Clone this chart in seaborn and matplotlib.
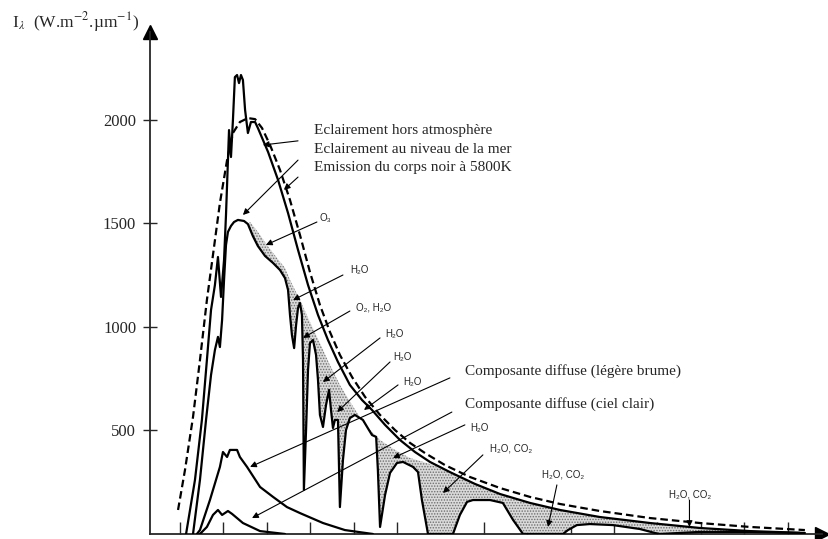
import matplotlib
matplotlib.use('Agg')
import matplotlib.pyplot as plt
import seaborn as sns
import numpy as np

# wavelength (um) / spectral irradiance (W.m-2.um-1)

# Eclairement hors atmosphere
et_lam = [0.228, 0.269, 0.301, 0.324, 0.343, 0.361, 0.375, 0.389, 0.403, 0.412,
          0.421, 0.426, 0.435, 0.444, 0.453, 0.463, 0.472, 0.481, 0.490, 0.500,
          0.513, 0.527, 0.546, 0.559, 0.606, 0.652, 0.698, 0.744, 0.790, 0.836,
          0.882, 0.928, 0.983, 1.039, 1.085, 1.145, 1.214, 1.283, 1.352, 1.444,
          1.559, 1.675, 1.813, 1.951, 2.135, 2.366, 2.596, 2.827, 3.080]
et_val = [0, 261, 551, 840, 1082, 1203, 1338, 1145, 1323, 1541,
          1806, 1951, 1821, 2000, 2207, 2217, 2178, 2217, 2193, 2048,
          1937, 1990, 1990, 1961, 1845, 1710, 1550, 1372, 1203, 1058,
          937, 831, 720, 647, 599, 527, 454, 396, 348, 299,
          242, 193, 150, 116, 82, 53, 29, 14, 5]

# Emission du corps noir a 5800K
bb_lam = [0.191, 0.223, 0.260, 0.292, 0.324, 0.352, 0.384, 0.417, 0.444, 0.476,
          0.513, 0.546, 0.578, 0.615, 0.661, 0.707, 0.753, 0.799, 0.845, 0.891,
          0.937, 0.993, 1.053, 1.122, 1.191, 1.260, 1.329, 1.421, 1.537, 1.675,
          1.813, 1.951, 2.135, 2.366, 2.596, 2.827, 3.080]
bb_val = [116, 309, 565, 840, 1130, 1348, 1599, 1806, 1937, 1990,
          2009, 2004, 1961, 1879, 1758, 1613, 1444, 1265, 1106, 976,
          865, 758, 662, 575, 502, 440, 391, 333, 275, 222,
          179, 145, 111, 77, 53, 34, 19]

# Eclairement au niveau de la mer
sl_lam = [0.260, 0.292, 0.320, 0.343, 0.361, 0.375, 0.384, 0.394, 0.403, 0.412,
          0.421, 0.435, 0.449, 0.467, 0.495, 0.513, 0.536, 0.559, 0.592, 0.629,
          0.661, 0.684, 0.698, 0.707, 0.716, 0.726, 0.735, 0.744, 0.753, 0.762,
          0.767, 0.771, 0.781, 0.790, 0.799, 0.813, 0.827, 0.836, 0.845, 0.859,
          0.873, 0.887, 0.896, 0.905, 0.914, 0.928, 0.937, 0.951, 0.965, 0.983,
          1.006, 1.043, 1.071, 1.085, 1.104, 1.112, 1.122, 1.145, 1.168, 1.200,
          1.228, 1.274, 1.297, 1.315, 1.343, 1.458, 1.490, 1.523, 1.550, 1.629,
          1.688, 1.735, 1.781, 1.965, 1.988, 2.029, 2.089, 2.195, 2.320, 2.388,
          2.412, 2.596, 2.827, 3.057]
sl_val = [0, 261, 551, 768, 889, 952, 903, 1034, 1227, 1396,
          1459, 1488, 1507, 1517, 1512, 1497, 1439, 1391, 1343, 1309,
          1275, 1236, 1179, 1058, 961, 898, 1009, 1092, 1116, 1058,
          840, 213, 502, 792, 922, 937, 865, 744, 575, 517,
          623, 696, 599, 512, 551, 551, 130, 357, 502, 560,
          575, 551, 502, 478, 469, 309, 34, 188, 295, 343,
          348, 324, 299, 164, 0, 0, 92, 155, 164, 164,
          150, 68, 0, 0, 19, 43, 48, 43, 24, 5,
          0, 10, 10, 5]

# upper edge of the stippled (absorbed) area
abs_lam = [0.523, 0.559, 0.601, 0.647, 0.684, 0.707, 0.753, 0.799, 0.845, 0.891,
           0.937, 0.993, 1.053, 1.122, 1.191, 1.260, 1.352, 1.444, 1.559, 1.675,
           1.813, 1.951, 2.135, 2.366, 2.596, 2.827, 3.080]
abs_val = [1507, 1459, 1396, 1333, 1285, 1227, 1130, 1024, 922, 816,
           720, 623, 527, 454, 406, 367, 338, 299, 242, 193,
           150, 116, 82, 53, 29, 14, 5]

# Composante diffuse (legere brume)
haze_lam = [0.278, 0.292, 0.338, 0.384, 0.398, 0.417, 0.430, 0.463, 0.476, 0.509,
            0.569, 0.629, 0.693, 0.753, 0.859, 0.960, 1.089]
haze_val = [0, 19, 164, 324, 396, 372, 406, 406, 372, 324,
            227, 179, 130, 101, 53, 19, 0]

# Composante diffuse (ciel clair)
clear_lam = [0.292, 0.324, 0.352, 0.375, 0.394, 0.421, 0.440, 0.490, 0.569, 0.684]
clear_val = [0, 34, 92, 116, 92, 111, 97, 53, 14, 0]

x_ticks = [0.2, 0.4, 0.6, 0.8, 1.0, 1.2, 1.4, 1.6, 1.8, 2.0, 2.2, 2.4, 2.6, 2.8, 3.0]
y_ticks = [500, 1000, 1500, 2000]

sns.set_style('ticks')
plt.rcParams['font.family'] = ['Liberation Serif', 'DejaVu Serif']
plt.rcParams['mathtext.fontset'] = 'stix'
plt.rcParams['hatch.linewidth'] = 0.7

fig = plt.figure(figsize=(8.29, 5.39), dpi=100)
ax = fig.add_axes([0.181, 0.0093, 0.8106, 0.9314])

# stippled absorption bands
sl_lam_a = np.array(sl_lam)
sl_val_a = np.array(sl_val)
keep = sl_lam_a >= 0.513
poly_x = np.concatenate([abs_lam, sl_lam_a[keep][::-1]])
poly_y = np.concatenate([abs_val, sl_val_a[keep][::-1]])
ax.fill(poly_x, poly_y, facecolor='#dadada', edgecolor='#6e6e6e',
        hatch='......', linewidth=0, zorder=1)

lw = 1.6
sns.lineplot(x=bb_lam, y=bb_val, ax=ax, color='black', lw=lw, sort=False,
             estimator=None, linestyle=(0, (3.4, 1.8)), zorder=3)
for xs, ys in [(et_lam, et_val), (sl_lam, sl_val), (haze_lam, haze_val), (clear_lam, clear_val)]:
    sns.lineplot(x=xs, y=ys, ax=ax, color='black', lw=lw, sort=False,
                 estimator=None, zorder=3)

ax.set_xlim(0.062, 3.159)
ax.set_ylim(0, 2425)
sns.despine(ax=ax)
for s in ['left', 'bottom']:
    ax.spines[s].set_linewidth(1.3)
ax.set_xticks(x_ticks)
ax.set_xticklabels([])
ax.tick_params(axis='x', direction='in', length=9, width=1.0)
ax.set_yticks(y_ticks)
ax.tick_params(axis='y', direction='inout', length=10, width=1.0, pad=5, labelsize=12)
ax.set_xlabel('')
ax.set_ylabel('')

# axis arrows
ax.plot([0], [1], marker='^', ms=10, color='black', transform=ax.transAxes, clip_on=False)
ax.plot([1], [0], marker='>', ms=10, color='black', transform=ax.transAxes, clip_on=False)

fig.text(12 / 829, 1 - 22 / 539, r'I$_{\lambda}$  (W.m$^{-2}$.µm$^{-1}$)',
         fontsize=12.5, ha='left', va='center')

arrow = dict(arrowstyle='-|>', lw=0.8, color='black', mutation_scale=9,
             shrinkA=0, shrinkB=0)

# big captions
big = [('Eclairement hors atmosphère', 0.816, 1947, (0.744, 1899), (0.582, 1879)),
       ('Eclairement au niveau de la mer', 0.816, 1855, (0.744, 1806), (0.490, 1541)),
       ('Emission du corps noir à 5800K', 0.816, 1768, (0.744, 1724), (0.679, 1662)),
       ('Composante diffuse (légère brume)', 1.513, 787, (1.444, 754), (0.523, 324)),
       ('Composante diffuse (ciel clair)', 1.513, 628, (1.453, 589), (0.532, 77))]
for txt, tx, ty, start, tip in big:
    ax.text(tx, ty, txt, fontsize=11, ha='left', va='center')
    ax.annotate('', xy=tip, xytext=start, arrowprops=arrow)

# small absorber labels
small = [('O₃', 0.845, 1526, (0.831, 1507), (0.596, 1396)),
         ('H₂O', 0.983, 1275, (0.951, 1251), (0.721, 1130)),
         ('O₂, H₂O', 1.011, 1092, (0.983, 1077), (0.767, 947)),
         ('H₂O', 1.145, 966, (1.122, 947), (0.859, 734)),
         ('H₂O', 1.182, 855, (1.168, 831), (0.924, 589)),
         ('H₂O', 1.228, 734, (1.205, 720), (1.048, 599)),
         ('H₂O', 1.537, 512, (1.513, 527), (1.182, 367)),
         ('H₂O, CO₂', 1.629, 415, (1.596, 382), (1.412, 198)),
         ('H₂O, CO₂', 1.868, 285, (1.937, 237), (1.896, 34)),
         ('H₂O, CO₂', 2.456, 193, (2.548, 164), (2.548, 34))]
for txt, tx, ty, start, tip in small:
    ax.text(tx, ty, txt, fontsize=7, ha='left', va='center',
            family=['Liberation Sans', 'DejaVu Sans'])
    ax.annotate('', xy=tip, xytext=start, arrowprops=arrow)

fig.savefig('out.png', dpi=100)
